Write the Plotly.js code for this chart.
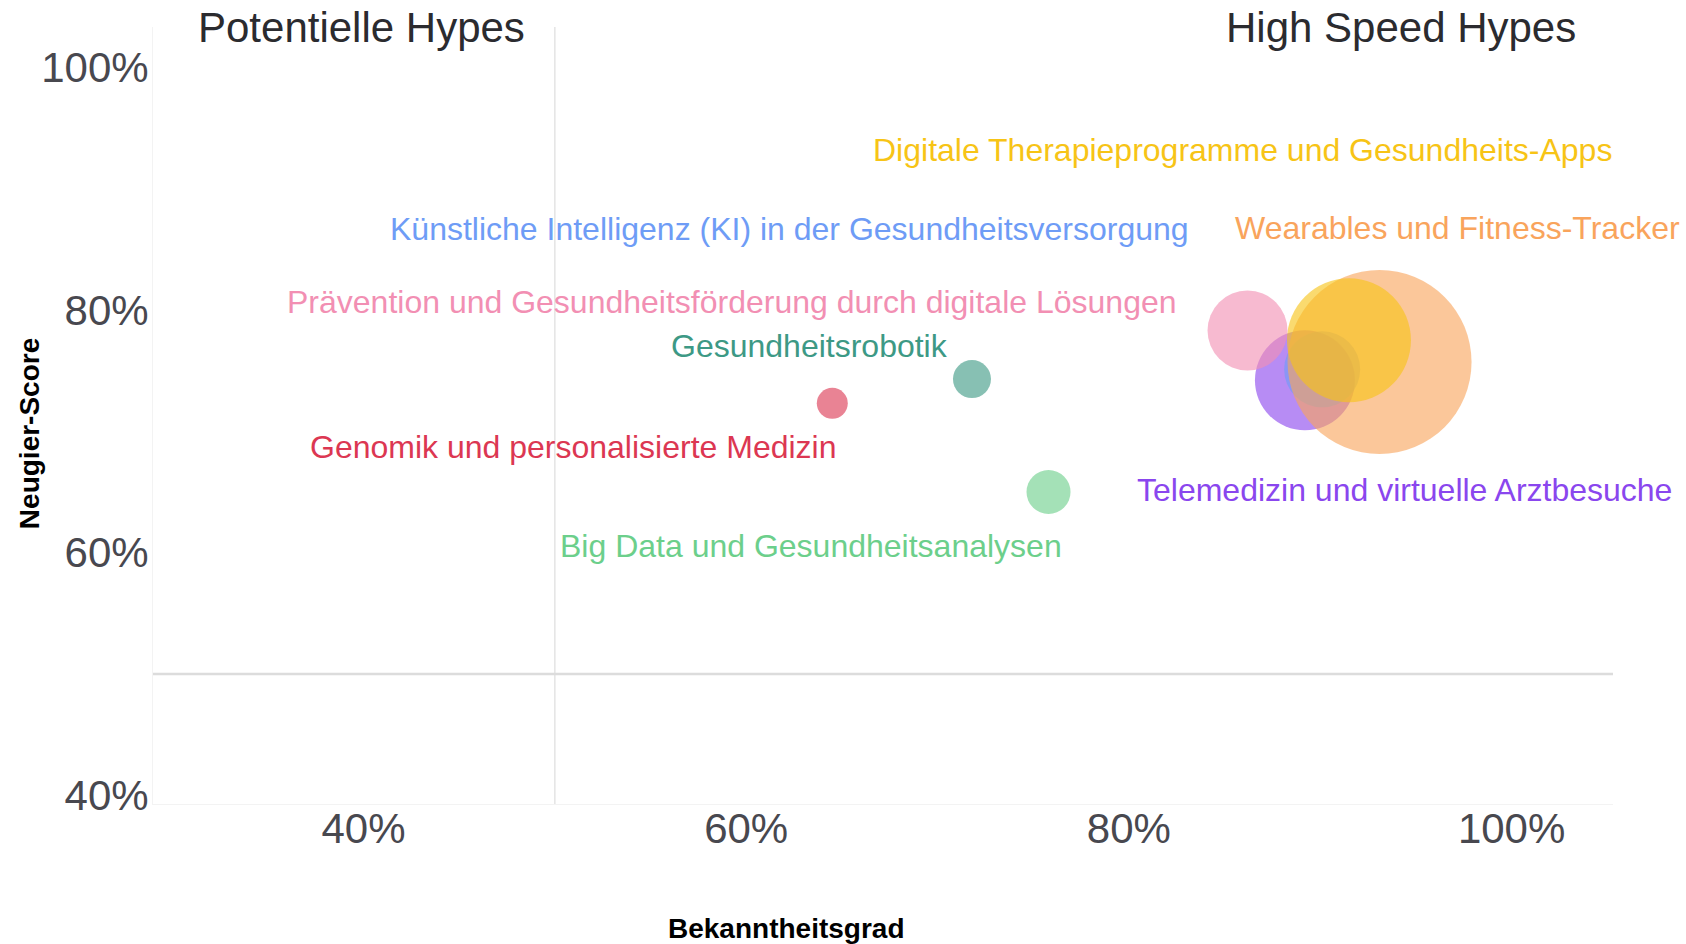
<!DOCTYPE html>
<html>
<head>
<meta charset="utf-8">
<script src="https://cdn.plot.ly/plotly-3.0.1.min.js"></script>
<style>
  html, body { margin: 0; padding: 0; background: #fff; }
  #chart { width: 1686px; height: 944px; }
</style>
</head>
<body>
<div id="chart"></div>
<script>
// Themen in Zeichenreihenfolge (unten -> oben)
const themen = [
  "Telemedizin und virtuelle Arztbesuche",
  "Künstliche Intelligenz (KI) in der Gesundheitsversorgung",
  "Wearables und Fitness-Tracker",
  "Digitale Therapieprogramme und Gesundheits-Apps",
  "Prävention und Gesundheitsförderung durch digitale Lösungen",
  "Gesundheitsrobotik",
  "Big Data und Gesundheitsanalysen",
  "Genomik und personalisierte Medizin"
];
const bekanntheit = [89.2, 90.1, 93.1, 91.5, 86.2, 71.8, 75.8, 64.5];
const neugier = [74.2, 75.1, 75.7, 77.5, 78.3, 74.3, 65.0, 72.3];
const groesse = [100, 76, 184, 124, 80, 38, 44, 31];
const farben = ["#8a46ee", "#6e9cf6", "#f9a45c", "#f7c416", "#f28fb3", "#3d9985", "#6ccf8b", "#dc3752"];

const achsenTicks = [40, 60, 80, 100];
const tickText = ["40%", "60%", "80%", "100%"];

// label offsets in px relative to bubble centre
const labelDx = [100, -533, 78, -106, -516, -162, -238, -259];
const labelDy = [-110, 140, 134, 190, 29, 33, -54, -44];

const trace = {
  x: bekanntheit,
  y: neugier,
  text: themen,
  mode: "markers",
  type: "scatter",
  hoverinfo: "text",
  marker: {
    size: groesse,
    sizemode: "diameter",
    color: farben,
    opacity: 0.62,
    line: { width: 0 }
  },
  cliponaxis: false
};

const labels = themen.map((t, i) => ({
  x: bekanntheit[i],
  y: neugier[i],
  xref: "x",
  yref: "y",
  text: t,
  showarrow: false,
  xanchor: "center",
  yanchor: "middle",
  xshift: labelDx[i],
  yshift: labelDy[i],
  font: { family: "Liberation Sans, Arial, sans-serif", size: 32, color: farben[i] }
}));

const ecken = [
  { text: "Potentielle Hypes", x: 0.1425 },
  { text: "High Speed Hypes", x: 0.855 }
].map(e => ({
  x: e.x, y: 1, xref: "paper", yref: "paper",
  text: e.text, showarrow: false,
  xanchor: "center", yanchor: "middle",
  font: { family: "Liberation Sans, Arial, sans-serif", size: 42, color: "#2b2b2f" }
}));

const achsenTitel = [
  {
    text: "Bekanntheitsgrad", x: 0.4336, y: 0, xref: "paper", yref: "paper",
    yshift: -124, showarrow: false, xanchor: "center", yanchor: "middle",
    font: { family: "Liberation Sans, Arial, sans-serif", size: 28, color: "#000", weight: "bold" }
  },
  {
    text: "Neugier-Score", x: 0, y: 0.476, xref: "paper", yref: "paper",
    xshift: -124, textangle: -90, showarrow: false, xanchor: "center", yanchor: "middle",
    font: { family: "Liberation Sans, Arial, sans-serif", size: 28, color: "#000", weight: "bold" }
  }
];

const layout = {
  width: 1686,
  height: 944,
  margin: { l: 153, r: 73, t: 27, b: 140 },
  paper_bgcolor: "#fff",
  plot_bgcolor: "#fff",
  showlegend: false,
  xaxis: {
    range: [29, 105.3],
    tickvals: achsenTicks,
    ticktext: tickText,
    showgrid: false,
    zeroline: false,
    showline: true,
    linecolor: "#f3f3f3",
    ticks: "",
    ticklabelstandoff: -12,
    tickfont: { family: "Liberation Sans, Arial, sans-serif", size: 42, color: "#48484f" }
  },
  yaxis: {
    range: [39.3, 103.3],
    tickvals: achsenTicks,
    ticktext: tickText,
    showgrid: false,
    zeroline: false,
    showline: true,
    linecolor: "#f3f3f3",
    ticks: "",
    ticklabelstandoff: -5,
    tickfont: { family: "Liberation Sans, Arial, sans-serif", size: 42, color: "#48484f" }
  },
  shapes: [
    { type: "line", xref: "x", yref: "paper", x0: 50, x1: 50, y0: 0, y1: 1,
      line: { color: "#e4e4e4", width: 1.5 }, layer: "below" },
    { type: "line", xref: "paper", yref: "y", x0: 0, x1: 1, y0: 50, y1: 50,
      line: { color: "#dcdcdc", width: 2.5 }, layer: "below" }
  ],
  annotations: labels.concat(ecken, achsenTitel)
};

Plotly.newPlot("chart", [trace], layout, { displayModeBar: false, staticPlot: true });
</script>
</body>
</html>
